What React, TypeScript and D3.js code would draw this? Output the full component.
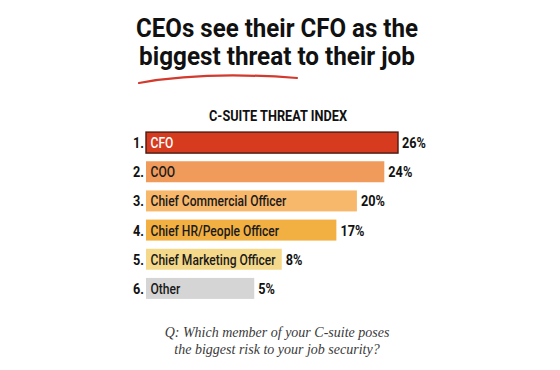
import * as d3 from "d3";
import React, { useEffect, useRef } from "react";

const categories = [
  "CFO",
  "COO",
  "Chief Commercial Officer",
  "Chief HR/People Officer",
  "Chief Marketing Officer",
  "Other",
];
const values = [26, 24, 20, 17, 8, 5];
const barColors = ["#d63b1f", "#f09a5b", "#f8b86b", "#f2b042", "#f5d98b", "#d5d5d5"];
const labelColors = ["#ffffff", "#1a1a1a", "#1a1a1a", "#1a1a1a", "#1a1a1a", "#1a1a1a"];
const titleLines = ["CEOs see their CFO as the", "biggest threat to their job"];
const subtitle = "C-SUITE THREAT INDEX";
const questionLines = [
  "Q: Which member of your C-suite poses",
  "the biggest risk to your job security?",
];

const W = 560;
const H = 370;
const SANS = "Roboto, 'Liberation Sans', sans-serif";

type TextSel = d3.Selection<SVGTextElement, any, any, any>;

// the original uses a condensed face: narrow the glyphs with a horizontal scale
function place(sel: TextSel, px: (i: number) => number, py: (i: number) => number, f: number) {
  sel
    .attr("x", 0)
    .attr("y", 0)
    .attr("transform", (_, i) => `translate(${px(i)},${py(i)}) scale(${f},1)`);
}

export default function App() {
  const svgRef = useRef<SVGSVGElement | null>(null);

  useEffect(() => {
    if (!svgRef.current) return;
    const svg = d3.select(svgRef.current);
    svg.selectAll("*").remove();

    const barLeft = 146;
    const x = d3.scaleLinear().domain([0, 26]).range([220, 398]);
    const y = d3
      .scaleBand<string>()
      .domain(categories)
      .range([128, 303])
      .paddingInner(0.28)
      .paddingOuter(0.14);

    // title
    const titleWidths = [282, 276];
    const titleBase = [37, 65];
    svg
      .append("g")
      .attr("font-family", SANS)
      .attr("font-weight", "bold")
      .attr("font-size", 25.5)
      .attr("fill", "#111")
      .attr("text-anchor", "middle")
      .selectAll("text")
      .data(titleLines)
      .enter()
      .append("text")
      .text((d) => d)
      .each(function (_, i) {
        const f = titleWidths[i] / this.getComputedTextLength();
        d3.select(this).attr("transform", `translate(277,${titleBase[i]}) scale(${f},1)`);
      });

    // red brush underline
    svg
      .append("path")
      .attr("d", "M139,83 Q205,71 297,78")
      .attr("fill", "none")
      .attr("stroke", "#d13a2c")
      .attr("stroke-width", 2.2)
      .attr("stroke-linecap", "round");

    const sub = svg
      .append("text")
      .attr("text-anchor", "middle")
      .attr("font-family", SANS)
      .attr("font-weight", "bold")
      .attr("font-size", 15)
      .attr("fill", "#111")
      .text(subtitle);
    place(sub, () => 278, () => 121, 138 / (sub.node() as SVGTextElement).getComputedTextLength());

    const bh = y.bandwidth();
    const rowY = (i: number) => (y(categories[i]) as number);
    const baseY = (i: number) => rowY(i) + bh / 2 + 5.5;

    const g = svg.append("g");

    const bars = g
      .selectAll("rect")
      .data(categories)
      .enter()
      .append("rect")
      .attr("x", barLeft)
      .attr("y", (d) => y(d) as number)
      .attr("height", bh)
      .attr("fill", (_, i) => barColors[i])
      .attr("stroke", (_, i) => (i === 0 ? "#4a1a10" : "none"))
      .attr("stroke-width", 1.4);

    const labels = g
      .selectAll("text.label")
      .data(categories)
      .enter()
      .append("text")
      .attr("class", "label")
      .attr("font-family", SANS)
      .attr("font-weight", 500)
      .attr("font-size", 15.5)
      .attr("fill", (_, i) => labelColors[i])
      .text((d) => d);
    const refLabel = labels.filter((d) => d === "Chief Commercial Officer").node() as SVGTextElement;
    const lf = 136 / refLabel.getComputedTextLength();
    const labelLen: number[] = [];
    labels.each(function (_, i) {
      labelLen[i] = this.getComputedTextLength() * lf;
    });
    place(labels, () => barLeft + 4.5, baseY, lf);

    // bar end: value scale, but never shorter than the label inside it
    const ends = values.map((v, i) => Math.max(x(v), barLeft + 4.5 + labelLen[i] + 6));
    bars.attr("width", (_, i) => ends[i] - barLeft);

    const nums = g
      .selectAll("text.num")
      .data(categories)
      .enter()
      .append("text")
      .attr("class", "num")
      .attr("text-anchor", "end")
      .attr("font-family", SANS)
      .attr("font-weight", "bold")
      .attr("font-size", 15.5)
      .attr("fill", "#111")
      .text((_, i) => `${i + 1}.`);

    const vals = g
      .selectAll("text.val")
      .data(categories)
      .enter()
      .append("text")
      .attr("class", "val")
      .attr("font-family", SANS)
      .attr("font-weight", "bold")
      .attr("font-size", 15.5)
      .attr("fill", "#111")
      .text((_, i) => `${values[i]}%`);
    const vf = 24 / (vals.node() as SVGTextElement).getComputedTextLength();
    place(vals, (i) => ends[i] + 4, baseY, vf);
    place(nums, () => 144, baseY, vf);

    const q = svg
      .append("g")
      .attr("font-family", "'Liberation Serif', 'DejaVu Serif', serif")
      .attr("font-style", "italic")
      .attr("font-size", 14)
      .attr("fill", "#3a3a3a")
      .attr("text-anchor", "middle");
    q.append("text").attr("x", 277).attr("y", 337).text(questionLines[0]);
    q.append("text").attr("x", 277).attr("y", 354).text(questionLines[1]);
  }, []);

  return (
    <svg
      ref={svgRef}
      width={W}
      height={H}
      style={{ position: "absolute", left: 0, top: 0, background: "#fff" }}
    />
  );
}
